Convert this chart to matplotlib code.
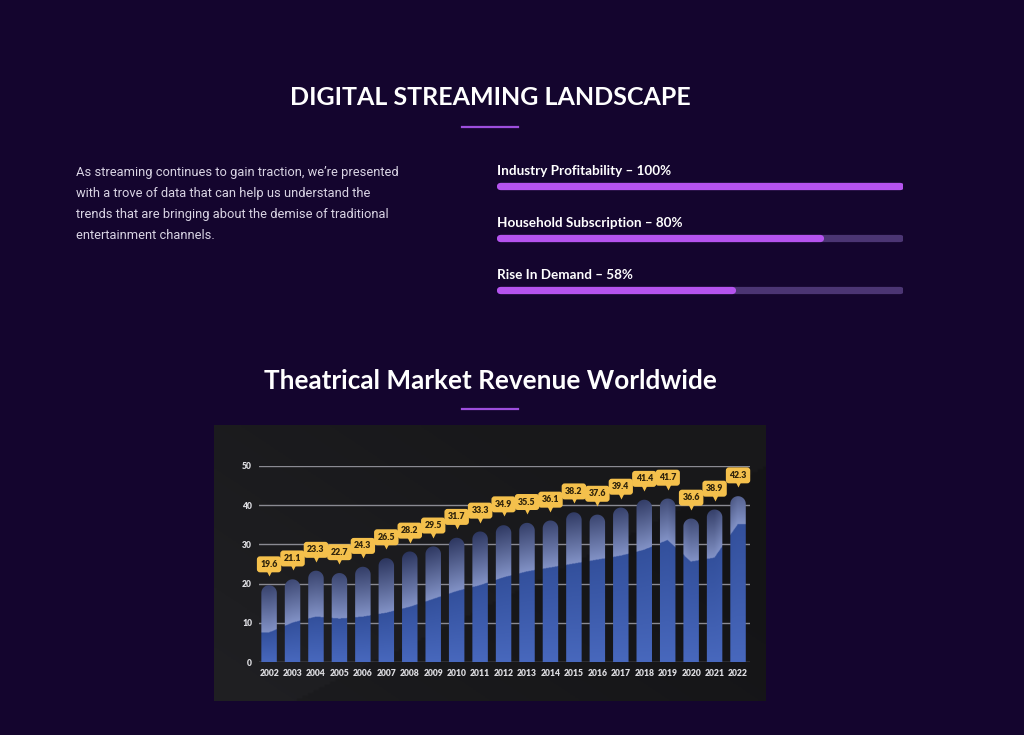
import numpy as np
import matplotlib.pyplot as plt
from matplotlib.path import Path
from matplotlib.patches import PathPatch
from matplotlib.colors import to_rgb
from matplotlib.transforms import offset_copy

# page text
title = "DIGITAL STREAMING LANDSCAPE"
intro = ["As streaming continues to gain traction, we\u2019re presented",
         "with a trove of data that can help us understand the",
         "trends that are bringing about the demise of traditional",
         "entertainment channels."]
skills = ["Industry Profitability", "Household Subscription", "Rise In Demand"]
skill_pct = [100, 80, 58]
chart_title = "Theatrical Market Revenue Worldwide"

# chart data
years = list(range(2002, 2023))
revenue = [19.6, 21.1, 23.3, 22.7, 24.3, 26.5, 28.2, 29.5, 31.7, 33.3, 34.9,
           35.5, 36.1, 38.2, 37.6, 39.4, 41.4, 41.7, 36.6, 38.9, 42.3]
# height of the darker "wave" inside the bars
wave = [7.5, 10, 11.5, 11, 11.5, 12.5, 14, 16, 18, 19.5, 21.5,
        23, 24, 25, 26, 27, 28.5, 31, 25.5, 26.5, 35]
yticks = [0, 10, 20, 30, 40, 50]

BG = "#14052e"
W, H = 1024, 735


def fig_box(x0, y0, x1, y1):
    # pixel box (top-left origin) -> figure fraction
    return [x0 / W, 1 - y1 / H, (x1 - x0) / W, (y1 - y0) / H]


def bar_path(x, v, w, ry):
    th = np.linspace(np.pi, 0, 30)
    ax_ = x + w / 2 * np.cos(th)
    ay_ = v - ry + ry * np.sin(th)
    xs = np.concatenate([[x - w / 2], ax_, [x + w / 2, x - w / 2]])
    ys = np.concatenate([[0], ay_, [0, 0]])
    return Path(np.column_stack([xs, ys]), closed=True)


def main():
    fig = plt.figure(figsize=(W / 100, H / 100), dpi=100, facecolor=BG)

    page = fig.add_axes([0, 0, 1, 1])
    page.set_xlim(0, W)
    page.set_ylim(H, 0)
    page.axis("off")
    page.set_facecolor(BG)

    page.text(490, 97, title, ha="center", va="center", fontsize=18,
              fontweight="bold", family="Lato", color="white")
    page.plot([462, 518], [127, 127], color="#9d4edd", lw=1.6)
    for i, line in enumerate(intro):
        page.text(76, 172 + 21 * i, line, ha="left", va="center",
                  fontsize=9.3, family="Roboto", color="#d9d4e4")

    for i, (name, pct) in enumerate(zip(skills, skill_pct)):
        yc = 171 + 52 * i
        page.text(497, yc, f"{name} \u2013 {pct}%", ha="left", va="center",
                  fontsize=9.7, fontweight="bold", family="Lato", color="white")
        bx = fig.add_axes(fig_box(497, yc + 10, 903, yc + 20))
        bx.axis("off")
        cap = 3.5 / 406 * 100
        bx.set_xlim(-cap, 100 + cap)
        bx.set_ylim(-1, 1)
        bx.plot([0, 100], [0, 0], color="#4b3573", lw=5.2, solid_capstyle="round")
        bx.plot([0, pct], [0, 0], color="#b553ef", lw=5.2, solid_capstyle="round")

    page.text(490, 381, chart_title, ha="center", va="center", fontsize=18.8,
              fontweight="bold", family="Lato", color="white")
    page.plot([462, 518], [409, 409], color="#9d4edd", lw=1.6)

    # chart panel background
    pan = fig.add_axes(fig_box(214, 425, 766, 701))
    pan.axis("off")
    gx, gy = np.meshgrid(np.linspace(0, 1, 200), np.linspace(0, 1, 100))
    shade = 0.095 + 0.03 * np.clip(1 - (gx * 0.8 + (1 - gy) * 0.6), 0, 1)
    shade = shade - 0.015 * (gx + gy > 1.15)
    bgimg = np.dstack([shade, shade, shade * 1.1])
    pan.imshow(np.clip(bgimg, 0, 1), extent=[0, 1, 0, 1], aspect="auto",
               origin="upper")

    # plot area
    ax = fig.add_axes(fig_box(259, 466, 750, 662))
    ax.patch.set_alpha(0)
    xl = (2001.57, 2022.51)

    for t in yticks:
        ax.axhline(t, color="#8a8a92", lw=1.0, zorder=1)

    w = 0.66
    ry = (w / 2 * 23.45) / 3.92
    paths = [bar_path(x, v, w, ry) for x, v in zip(years, revenue)]
    clip = PathPatch(Path.make_compound_path(*paths), fc="none", ec="none")
    ax.add_patch(clip)

    nx, ny = 900, 400
    px = np.linspace(xl[0], xl[1], nx)
    py = np.linspace(0, 50, ny)
    X, Y = np.meshgrid(px, py)
    C = np.interp(px, years, wave)[None, :]
    lo_b, lo_t = np.array(to_rgb("#4868bd")), np.array(to_rgb("#33509c"))
    up_l, up_d = np.array(to_rgb("#8292c6")), np.array(to_rgb("#252e56"))
    tl = np.clip(Y / C, 0, 1)[..., None]
    tu = np.clip((Y - C) / 15.0, 0, 1)[..., None]
    lower = lo_b * (1 - tl) + lo_t * tl
    upper = up_l * (1 - tu) + up_d * tu
    img = np.where((Y < C)[..., None], lower, upper)
    im = ax.imshow(img, extent=[xl[0], xl[1], 0, 50], origin="lower",
                   aspect="auto", zorder=2, interpolation="bilinear")
    im.set_clip_path(clip)

    ax.set_xlim(*xl)
    ax.set_ylim(0, 50)

    tip = offset_copy(ax.transData, fig=fig, y=8.5, units="points")
    for x, v in zip(years, revenue):
        ax.annotate(f"{v}", (x, v), xytext=(0, 15), textcoords="offset points",
                    ha="center", va="center", fontsize=6.3, fontweight="heavy",
                    family="Lato", color="#30240c", zorder=5,
                    annotation_clip=False,
                    bbox=dict(boxstyle="round,pad=0.4,rounding_size=0.35",
                              fc="#f4c04c", ec="none"))
        ax.plot(x, v, marker="v", ms=4, color="#f4c04c", mec="none",
                transform=tip, clip_on=False, zorder=5)

    ax.set_yticks(yticks)
    ax.set_xticks(years)
    ax.set_yticklabels([str(t) for t in yticks])
    ax.set_xticklabels([str(y) for y in years])
    ax.tick_params(length=0, pad=5, labelsize=6.2, labelcolor="#dcdce0")
    for lab in ax.get_xticklabels() + ax.get_yticklabels():
        lab.set_fontweight("heavy")
        lab.set_family("Lato")
    for s in ax.spines.values():
        s.set_visible(False)

    page.text(237, 568, "Revenue in Billion U.S. dollars", rotation=90,
              ha="center", va="center", fontsize=7.2, fontweight="heavy",
              family="Lato", color="#ececf0")

    fig.savefig("out.png", dpi=100, facecolor=BG)


if __name__ == "__main__":
    main()
